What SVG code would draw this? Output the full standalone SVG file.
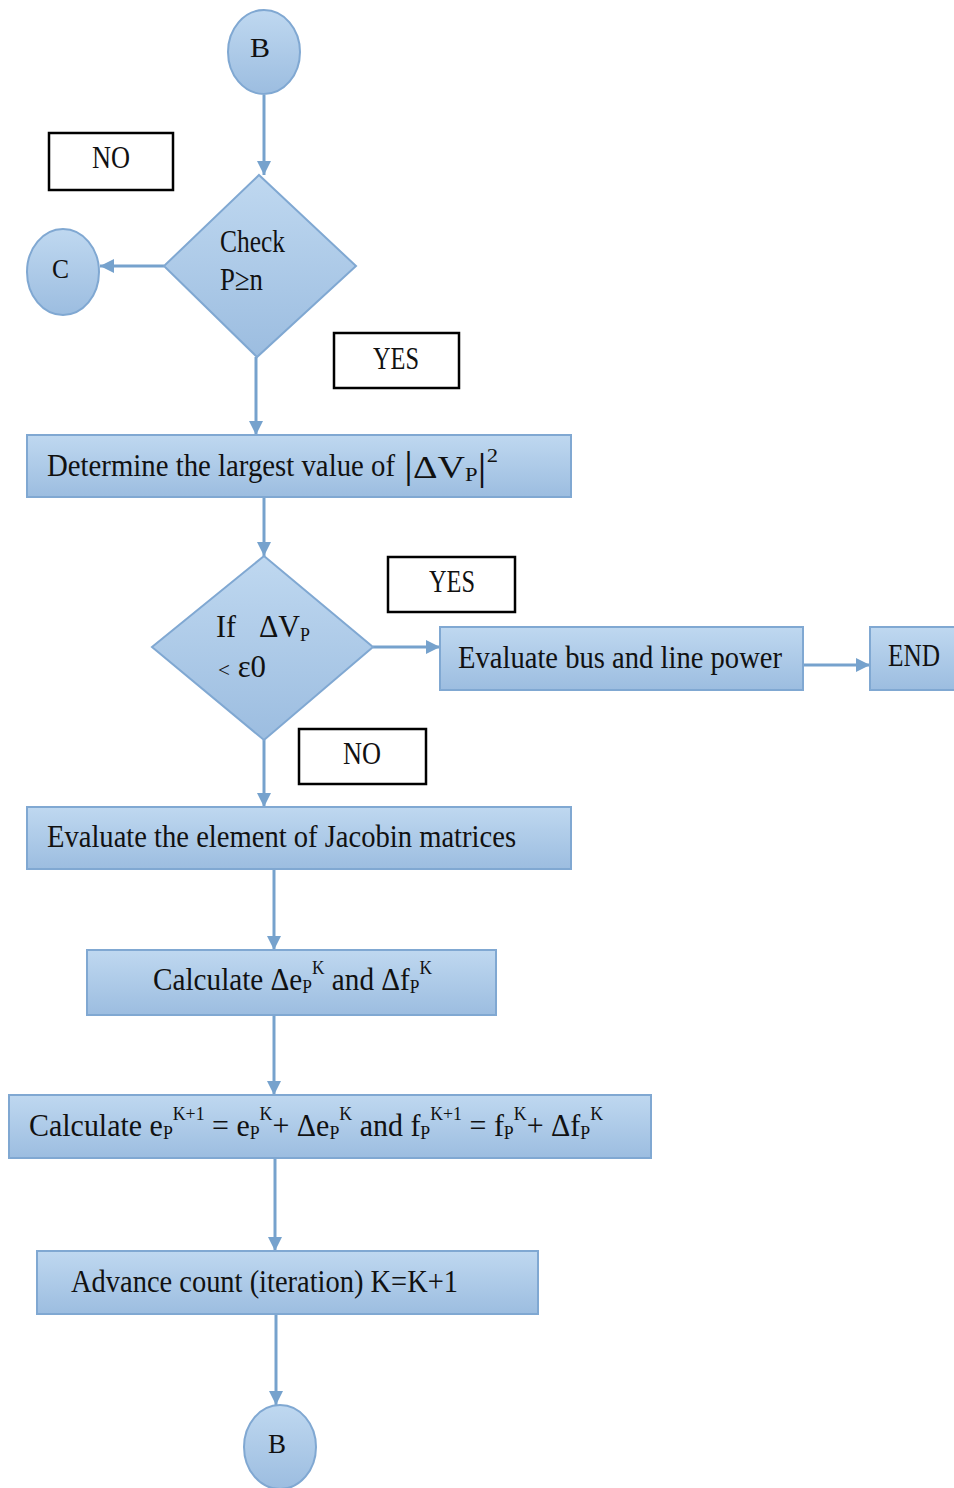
<svg xmlns="http://www.w3.org/2000/svg" width="954" height="1488" viewBox="0 0 954 1488">
<defs>
<linearGradient id="g" x1="0" y1="0" x2="0" y2="1">
<stop offset="0" stop-color="#bfd8f0"/>
<stop offset="1" stop-color="#9cbde0"/>
</linearGradient>
<marker id="ah" viewBox="0 0 10 10" refX="10" refY="5" markerWidth="14" markerHeight="14" markerUnits="userSpaceOnUse" orient="auto">
<path d="M0,0 L10,5 L0,10 z" fill="#76a2cd"/>
</marker>
</defs>
<style>
.n{fill:url(#g);stroke:#80a8d2;stroke-width:2}
.lb{fill:#fff;stroke:#000;stroke-width:2.5}
.t{font-family:"Liberation Serif","Times New Roman",serif;font-size:32px;fill:#111}
.b{font-size:28px}
.c{stroke:#76a2cd;stroke-width:3;fill:none;marker-end:url(#ah)}
.s{font-size:19px}
</style>
<rect width="954" height="1488" fill="#fff"/>
<g id="connectors">
<line class="c" x1="264" y1="95" x2="264" y2="175"/>
<line class="c" x1="164" y1="266" x2="100" y2="266"/>
<line class="c" x1="256" y1="357" x2="256" y2="435"/>
<line class="c" x1="264" y1="497" x2="264" y2="556"/>
<line class="c" x1="373" y1="647" x2="440" y2="647"/>
<line class="c" x1="803" y1="665" x2="870" y2="665"/>
<line class="c" x1="264" y1="740" x2="264" y2="807"/>
<line class="c" x1="274" y1="869" x2="274" y2="950"/>
<line class="c" x1="274" y1="1015" x2="274" y2="1095"/>
<line class="c" x1="275" y1="1158" x2="275" y2="1251"/>
<line class="c" x1="276" y1="1314" x2="276" y2="1405"/>
</g>
<g id="startB">
<ellipse class="n" cx="264" cy="52" rx="36" ry="42"/>
<text class="t b" x="250" y="57" textLength="20" lengthAdjust="spacingAndGlyphs">B</text>
</g>
<g id="labelNo1">
<rect class="lb" x="49" y="133" width="124" height="57"/>
<text class="t" x="92" y="168" textLength="38" lengthAdjust="spacingAndGlyphs">NO</text>
</g>
<g id="check">
<polygon class="n" points="259,175 356,266 257,357 164,266"/>
<text class="t" x="220" y="252" textLength="65" lengthAdjust="spacingAndGlyphs">Check</text>
<text class="t" x="220" y="290" textLength="43" lengthAdjust="spacingAndGlyphs">P≥n</text>
</g>
<g id="circleC">
<ellipse class="n" cx="63" cy="272" rx="36" ry="43"/>
<text class="t b" x="52" y="278" textLength="17" lengthAdjust="spacingAndGlyphs">C</text>
</g>
<g id="labelYes1">
<rect class="lb" x="334" y="333" width="125" height="55"/>
<text class="t" x="373" y="369" textLength="46" lengthAdjust="spacingAndGlyphs">YES</text>
</g>
<g id="determine">
<rect class="n" x="27" y="435" width="544" height="62"/>
<text class="t" x="47" y="476" textLength="348" lengthAdjust="spacingAndGlyphs">Determine the largest value of</text>
<text class="t" x="404" y="478" textLength="94" lengthAdjust="spacingAndGlyphs"><tspan font-size="38px">|</tspan>ΔV<tspan class="s" dy="3">P</tspan><tspan font-size="38px" dy="-1">|</tspan><tspan class="s" dy="-18">2</tspan></text>
</g>
<g id="check2">
<polygon class="n" points="264,556 373,647 264,740 152,647"/>
<text class="t" x="216" y="637" textLength="20" lengthAdjust="spacingAndGlyphs">If</text>
<text class="t" x="259" y="637" textLength="51" lengthAdjust="spacingAndGlyphs">ΔV<tspan class="s" dy="4">P</tspan></text>
<text class="t" x="218" y="677" textLength="48" lengthAdjust="spacingAndGlyphs"><tspan font-size="22px">&lt;</tspan> ε0</text>
</g>
<g id="labelYes2">
<rect class="lb" x="388" y="557" width="127" height="55"/>
<text class="t" x="429" y="592" textLength="46" lengthAdjust="spacingAndGlyphs">YES</text>
</g>
<g id="evaluatePower">
<rect class="n" x="440" y="627" width="363" height="63"/>
<text class="t" x="458" y="668" textLength="324" lengthAdjust="spacingAndGlyphs">Evaluate bus and line power</text>
</g>
<g id="end">
<rect class="n" x="870" y="627" width="90" height="63"/>
<text class="t" x="888" y="666" textLength="52" lengthAdjust="spacingAndGlyphs">END</text>
</g>
<g id="labelNo2">
<rect class="lb" x="299" y="729" width="127" height="55"/>
<text class="t" x="343" y="764" textLength="38" lengthAdjust="spacingAndGlyphs">NO</text>
</g>
<g id="jacobian">
<rect class="n" x="27" y="807" width="544" height="62"/>
<text class="t" x="47" y="847" textLength="469" lengthAdjust="spacingAndGlyphs">Evaluate the element of Jacobin matrices</text>
</g>
<g id="calc1">
<rect class="n" x="87" y="950" width="409" height="65"/>
<text class="t" x="153" y="990" textLength="279" lengthAdjust="spacingAndGlyphs">Calculate Δe<tspan class="s" dy="3">P</tspan><tspan class="s" dy="-19">K</tspan><tspan dy="16"> and Δf</tspan><tspan class="s" dy="3">P</tspan><tspan class="s" dy="-19">K</tspan></text>
</g>
<g id="calc2">
<rect class="n" x="9" y="1095" width="642" height="63"/>
<text class="t" x="29" y="1136" textLength="574" lengthAdjust="spacingAndGlyphs">Calculate e<tspan class="s" dy="3">P</tspan><tspan class="s" dy="-19">K+1</tspan><tspan dy="16"> = e</tspan><tspan class="s" dy="3">P</tspan><tspan class="s" dy="-19">K</tspan><tspan dy="16">+ Δe</tspan><tspan class="s" dy="3">P</tspan><tspan class="s" dy="-19">K</tspan><tspan dy="16"> and f</tspan><tspan class="s" dy="3">P</tspan><tspan class="s" dy="-19">K+1</tspan><tspan dy="16"> = f</tspan><tspan class="s" dy="3">P</tspan><tspan class="s" dy="-19">K</tspan><tspan dy="16">+ Δf</tspan><tspan class="s" dy="3">P</tspan><tspan class="s" dy="-19">K</tspan></text>
</g>
<g id="advance">
<rect class="n" x="37" y="1251" width="501" height="63"/>
<text class="t" x="71" y="1292" textLength="387" lengthAdjust="spacingAndGlyphs">Advance count (iteration) K=K+1</text>
</g>
<g id="endB">
<ellipse class="n" cx="280" cy="1447" rx="36" ry="42"/>
<text class="t b" x="268" y="1453" textLength="18" lengthAdjust="spacingAndGlyphs">B</text>
</g>
</svg>
